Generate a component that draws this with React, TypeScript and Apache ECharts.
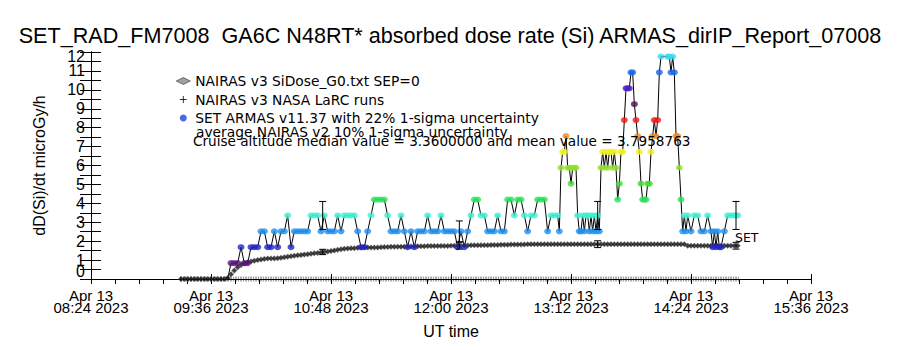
import React, { useEffect, useRef } from "react";
import * as echarts from "echarts";

// ---------------- data ----------------
const titleText = "SET_RAD_FM7008  GA6C N48RT* absorbed dose rate (Si) ARMAS_dirIP_Report_07008";
const yAxisTitle = "dD(Si)/dt microGy/h";
const xAxisTitle = "UT time";
const dateLabel = "Apr 13";
const yearLabel = "2023";
const xTickLabels = ["08:24", "09:36", "10:48", "12:00", "13:12", "14:24", "15:36"];
const yTickLabels = [0, 1, 2, 3, 4, 5, 6, 7, 8, 9, 10, 11, 12];

const nairasName = "NAIRAS v3 SiDose_G0.txt SEP=0";
const larcName = "NAIRAS v3 NASA LaRC runs";
const armasName = "SET ARMAS v11.37 with 22% 1-sigma uncertainty";
const noteAverage = "average NAIRAS v2 10% 1-sigma uncertainty";
const noteCruise = "Cruise altitude median value = 3.3600000 and mean value = 3.7958763";
const endLabel = "SET";

// NAIRAS model, 2-minute samples starting 09:18
const nairasStart = "09:18";
const nairasStepMin = 2;
const nairasValues = [
  0, 0, 0, 0, 0, 0, 0, 0, 0, 0, 0, 0, 0, 0,
  0.05, 0.25, 0.45, 0.62, 0.74, 0.82, 0.88, 0.93, 0.97, 1.0,
  1.03, 1.06, 1.08, 1.09, 1.09, 1.1, 1.12, 1.15, 1.18, 1.2,
  1.23, 1.25, 1.27, 1.29, 1.31, 1.34, 1.36, 1.38, 1.41, 1.43,
  1.45, 1.48, 1.51, 1.54, 1.57, 1.6, 1.61, 1.62, 1.63, 1.65,
  1.66, 1.67, 1.67, 1.66, 1.66, 1.67, 1.68, 1.69, 1.69, 1.7,
  1.7, 1.71, 1.71, 1.71, 1.72, 1.72, 1.72, 1.73, 1.73, 1.73,
  1.74, 1.74, 1.74, 1.75, 1.75, 1.75, 1.75, 1.76, 1.76, 1.76,
  1.76, 1.77, 1.77, 1.78, 1.78, 1.78, 1.79, 1.79, 1.79, 1.8,
  1.8, 1.8, 1.81, 1.81, 1.81, 1.82, 1.82, 1.82, 1.82, 1.83,
  1.84, 1.84, 1.84, 1.84, 1.84, 1.84, 1.84, 1.84, 1.84, 1.84, 1.84, 1.84,
  1.84, 1.84, 1.84, 1.84, 1.84, 1.84, 1.84, 1.84, 1.84, 1.84, 1.84, 1.84,
  1.84, 1.84, 1.84, 1.84, 1.84, 1.84, 1.84, 1.84, 1.84, 1.84, 1.84, 1.84,
  1.84, 1.84, 1.84, 1.84, 1.84, 1.84, 1.84, 1.84, 1.84, 1.84, 1.84, 1.84,
  1.76, 1.76, 1.76, 1.76, 1.76, 1.76, 1.76, 1.76,
  1.76, 1.76, 1.76, 1.76, 1.76, 1.76, 1.76, 1.76,
];

// NASA LaRC runs (same sampling, all zero)
const larcValues = [
  0, 0, 0, 0, 0, 0, 0, 0, 0, 0, 0, 0, 0, 0, 0, 0, 0, 0, 0, 0, 0, 0, 0, 0,
  0, 0, 0, 0, 0, 0, 0, 0, 0, 0, 0, 0, 0, 0, 0, 0, 0, 0, 0, 0, 0, 0, 0, 0,
  0, 0, 0, 0, 0, 0, 0, 0, 0, 0, 0, 0, 0, 0, 0, 0, 0, 0, 0, 0, 0, 0, 0, 0,
  0, 0, 0, 0, 0, 0, 0, 0, 0, 0, 0, 0, 0, 0, 0, 0, 0, 0, 0, 0, 0, 0, 0, 0,
  0, 0, 0, 0, 0, 0, 0, 0, 0, 0, 0, 0, 0, 0, 0, 0, 0, 0, 0, 0, 0, 0, 0, 0,
  0, 0, 0, 0, 0, 0, 0, 0, 0, 0, 0, 0, 0, 0, 0, 0, 0, 0, 0, 0, 0, 0, 0, 0,
  0, 0, 0, 0, 0, 0, 0, 0, 0, 0, 0, 0, 0, 0, 0, 0, 0, 0, 0, 0, 0, 0, 0, 0,
];

// SET ARMAS measurements
const armasTimes = [
  "09:46", "09:48", "09:50", "09:52", "09:54", "09:56", "09:58", "10:00", "10:02", "10:04",
  "10:06", "10:08", "10:10", "10:12", "10:14", "10:16", "10:18", "10:20", "10:22", "10:24",
  "10:26", "10:28", "10:30", "10:32", "10:34", "10:36", "10:38", "10:40", "10:42", "10:44",
  "10:46", "10:48", "10:50", "10:52", "10:54", "10:56", "10:58", "11:00", "11:02", "11:04",
  "11:06", "11:08", "11:10", "11:12", "11:14", "11:16", "11:18", "11:20", "11:22", "11:24",
  "11:26", "11:28", "11:30", "11:32", "11:34", "11:36", "11:38", "11:40", "11:42", "11:44",
  "11:46", "11:48", "11:50", "11:52", "11:54", "11:56", "11:58", "12:00", "12:02", "12:04",
  "12:06", "12:08", "12:10", "12:12", "12:14", "12:16", "12:18", "12:20", "12:22", "12:24",
  "12:26", "12:28", "12:30", "12:32", "12:34", "12:36", "12:38", "12:40", "12:42", "12:44",
  "12:46", "12:48", "12:50", "12:52", "12:54", "12:56", "12:58", "13:00", "13:02", "13:04",
  "13:05", "13:06", "13:07", "13:08", "13:09", "13:10", "13:11", "13:12", "13:13", "13:14",
  "13:15", "13:16", "13:17", "13:18", "13:19", "13:20", "13:21", "13:22", "13:23", "13:24",
  "13:25", "13:26", "13:27", "13:28", "13:29", "13:30", "13:31", "13:32", "13:33", "13:34",
  "13:35", "13:36", "13:37", "13:38", "13:39", "13:40", "13:41", "13:42", "13:43", "13:44",
  "13:45", "13:46", "13:47", "13:48", "13:49", "13:50", "13:51", "13:52", "13:53", "13:54",
  "13:55", "13:56", "13:57", "13:58", "13:59", "14:00", "14:01", "14:02", "14:03", "14:04",
  "14:05", "14:06", "14:10", "14:11", "14:12", "14:13", "14:14", "14:15", "14:16", "14:17",
  "14:18", "14:19", "14:20", "14:21", "14:22", "14:24", "14:26", "14:28", "14:30", "14:32",
  "14:34", "14:36", "14:37", "14:38", "14:39", "14:40", "14:41", "14:42", "14:44", "14:46",
  "14:48", "14:50", "14:51", "14:52",
];
const armasValues = [
  0, 0.84, 0.84, 0.84, 1.68, 0.84, 0.84, 1.68, 1.68, 1.68,
  2.52, 2.52, 1.68, 1.68, 2.52, 1.68, 2.52, 2.52, 3.36, 1.68,
  2.52, 2.52, 2.52, 2.52, 2.52, 3.36, 3.36, 3.36, 2.52, 3.36,
  2.52, 2.52, 2.52, 3.36, 2.52, 3.36, 3.36, 3.36, 3.36, 2.52,
  1.68, 1.68, 2.52, 3.36, 4.2, 4.2, 4.2, 4.2, 3.36, 2.52,
  2.52, 2.52, 3.36, 2.52, 1.68, 2.52, 1.68, 2.52, 2.52, 2.52,
  3.36, 2.52, 2.52, 2.52, 3.36, 2.52, 2.52, 2.52, 2.52, 1.68,
  2.52, 1.68, 2.52, 3.36, 4.2, 4.2, 3.36, 3.36, 2.52, 2.52,
  2.52, 3.36, 2.52, 2.52, 4.2, 4.2, 3.36, 4.2, 4.2, 3.36,
  2.52, 3.36, 3.36, 4.2, 4.2, 4.2, 2.52, 3.36, 3.36, 3.36,
  2.52, 5.88, 6.72, 6.72, 7.56, 5.88, 5.88, 5.04, 5.88, 5.88,
  5.88, 3.36, 2.52, 2.52, 3.36, 2.52, 3.36, 3.36, 2.52, 3.36,
  2.52, 3.36, 2.52, 3.36, 2.52, 5.88, 6.72, 5.88, 6.72, 5.88,
  6.72, 6.72, 5.88, 6.72, 5.88, 4.2, 5.04, 6.72, 6.72, 8.4,
  10.08, 10.08, 10.08, 10.92, 10.92, 9.24, 8.4, 7.56, 6.72, 5.04,
  4.2, 4.2, 4.2, 5.04, 5.04, 6.72, 7.56, 8.4, 7.56, 8.4,
  10.92, 11.76, 11.76, 11.76, 10.92, 11.76, 10.92, 7.56, 7.56, 5.88,
  4.2, 2.52, 3.36, 2.52, 3.36, 2.52, 3.36, 3.36, 2.52, 2.52,
  3.36, 2.52, 1.68, 2.52, 1.68, 2.52, 1.68, 1.68, 2.52, 3.36,
  3.36, 3.36, 3.36, 3.36,
];

// uncertainty bars
const errTimes = ["10:43", "12:05", "13:28", "14:51"];
const armasErrLow = [2.62, 1.97, 2.62, 2.62];
const armasErrHigh = [4.1, 3.07, 4.1, 4.1];
const nairasErrLow = [1.29, 1.58, 1.66, 1.58];
const nairasErrHigh = [1.57, 1.94, 2.02, 1.94];

// ---------------- styles ----------------
const ARMAS_STEP = 0.84;
const levelColors = [
  "rgba(0,0,0,0)", "#5a1478", "#2424c8", "#1e8ff0", "#3cf0d2", "#28e25a", "#3edc30",
  "#8ee02a", "#f0f020", "#f08a22", "#f01818", "#4e1055", "#4a22c8", "#1c66e8", "#38d8f0",
];
const FONT = "'Liberation Sans', Arial, sans-serif";
const FONT2 = "'DejaVu Sans', 'Liberation Sans', sans-serif";

const toMin = (s: string) => {
  const [h, m] = s.split(":").map(Number);
  return h * 60 + m - (8 * 60 + 24);
};

function errorBar(params: any, api: any) {
  const t = api.value(0);
  const lo = api.coord([t, api.value(1)]);
  const hi = api.coord([t, api.value(2)]);
  const w = 3.5;
  const st = { stroke: "#000", lineWidth: 1 };
  return {
    type: "group",
    children: [
      { type: "line", shape: { x1: lo[0], y1: lo[1], x2: hi[0], y2: hi[1] }, style: st },
      { type: "line", shape: { x1: lo[0] - w, y1: lo[1], x2: lo[0] + w, y2: lo[1] }, style: st },
      { type: "line", shape: { x1: hi[0] - w, y1: hi[1], x2: hi[0] + w, y2: hi[1] }, style: st },
    ],
  };
}

export default function App() {
  const ref = useRef<HTMLDivElement>(null);
  useEffect(() => {
    document.body.style.margin = "0";
    const chart = echarts.init(ref.current!, null, { renderer: "svg" });
    const nStart = toMin(nairasStart);
    const nairasData = nairasValues.map((v, i) => [nStart + nairasStepMin * i, v]);
    const larcData = larcValues.map((v, i) => [nStart + nairasStepMin * i, v]);
    const armasData = armasValues.map((v, i) => [toMin(armasTimes[i]), v]);
    const armasItems = armasValues.map((v, i) => ({
      value: [toMin(armasTimes[i]), v],
      itemStyle: { color: levelColors[Math.round(v / ARMAS_STEP)] },
    }));
    const armasErr = errTimes.map((t, i) => [toMin(t), armasErrLow[i], armasErrHigh[i]]);
    const nairasErr = errTimes.map((t, i) => [toMin(t), nairasErrLow[i], nairasErrHigh[i]]);
    const xMin = toMin(xTickLabels[0]);
    const xMax = toMin(xTickLabels[xTickLabels.length - 1]);
    const xStep = toMin(xTickLabels[1]) - xMin;
    const yMin = yTickLabels[0];
    const yMax = yTickLabels[yTickLabels.length - 1];
    const innerLabels = yTickLabels.slice(1, -1);
    const endLabels = [yMin, yMax];

    const axisLine = { show: true, lineStyle: { color: "#000", width: 1 } };
    const yLabStyle = { fontSize: 16, lineHeight: 12, color: "#000", fontFamily: FONT };
    chart.setOption({
      animation: false,
      backgroundColor: "#fff",
      textStyle: { fontFamily: FONT },
      title: {
        text: titleText,
        left: "center",
        top: 19.5,
        textStyle: { fontSize: 21.6, fontWeight: "normal", color: "#000", fontFamily: FONT },
      },
      legend: {
        orient: "vertical",
        left: 171,
        top: 69,
        itemWidth: 14,
        itemHeight: 7,
        itemGap: 4.5,
        selectedMode: false,
        textStyle: { fontSize: 13.8, color: "#000", fontFamily: FONT2, lineHeight: 13 },
        data: [
          { name: nairasName, icon: "diamond", itemStyle: { color: "#888", borderColor: "#000", borderWidth: 0.6 } },
          { name: larcName, icon: "path://M2,0V4M0,2H4", itemStyle: { color: "none", borderColor: "#000", borderWidth: 1 } },
          { name: armasName, icon: "circle", itemStyle: { color: "#2040e0" } },
        ],
      },
      grid: { left: 91, right: 89, top: 52, bottom: 71, containLabel: false },
      xAxis: [
        {
          type: "value",
          position: "bottom",
          min: xMin,
          max: xMax,
          interval: xStep,
          axisLine,
          axisTick: { show: true, inside: true, length: 5, lineStyle: { color: "#000" } },
          splitLine: { show: false },
          axisLabel: {
            color: "#000",
            fontSize: 15,
            lineHeight: 12,
            margin: 10,
            fontFamily: FONT,
            formatter: (v: number) => {
              const i = Math.round((v - xMin) / xStep);
              return `${dateLabel}\n${xTickLabels[i]} ${yearLabel}`;
            },
          },
          name: xAxisTitle,
          nameLocation: "middle",
          nameGap: 44,
          nameTextStyle: { fontSize: 16, color: "#000", fontFamily: FONT },
        },
        {
          type: "value",
          position: "top",
          min: xMin,
          max: xMax,
          interval: xStep,
          axisLine,
          axisTick: { show: true, inside: true, length: 5, lineStyle: { color: "#000" } },
          minorTick: { show: true, splitNumber: 5, length: 5, lineStyle: { color: "#000" } },
          axisLabel: { show: false },
          splitLine: { show: false },
        },
      ],
      yAxis: [
        {
          type: "value",
          position: "left",
          min: yMin,
          max: yMax,
          interval: 0.5,
          axisLine,
          axisTick: { show: true, inside: true, length: 10, lineStyle: { color: "#000" } },
          axisLabel: { customValues: innerLabels, margin: 6, ...yLabStyle },
          splitLine: { show: false },
          name: yAxisTitle,
          nameLocation: "middle",
          nameGap: 44,
          nameRotate: 90,
          nameTextStyle: { fontSize: 16, color: "#000", fontFamily: FONT },
        },
        {
          type: "value",
          position: "right",
          min: yMin,
          max: yMax,
          interval: 0.5,
          axisLine,
          axisTick: { show: true, inside: true, length: 11, lineStyle: { color: "#000" } },
          axisLabel: { show: false },
          splitLine: { show: false },
        },
        {
          // end labels (0 and 12) sit inside the frame, as in the reference
          type: "value",
          position: "left",
          min: -0.43,
          max: 12.24,
          axisLine: { show: false },
          axisTick: { show: false },
          splitLine: { show: false },
          axisLabel: { customValues: endLabels, margin: 6, ...yLabStyle },
        },
      ],
      graphic: [
        {
          type: "text",
          x: 196,
          y: 132,
          z: 100,
          style: { text: noteAverage, fontSize: 13.8, lineHeight: 12, fontFamily: FONT2, fill: "#000", verticalAlign: "middle" },
        },
        {
          type: "text",
          x: 193,
          y: 141,
          z: 100,
          style: { text: noteCruise, fontSize: 13.6, lineHeight: 12, fontFamily: FONT2, fill: "#000", verticalAlign: "middle" },
        },
        {
          type: "text",
          x: 735,
          y: 237,
          z: 100,
          style: { text: endLabel, fontSize: 12.5, fontFamily: FONT2, fill: "#000", verticalAlign: "middle" },
        },
      ],
      series: [
        {
          type: "scatter",
          name: nairasName,
          data: nairasData,
          symbol: "diamond",
          symbolSize: 5.5,
          itemStyle: { color: "#111", borderColor: "#666", borderWidth: 0.5 },
          z: 3,
          silent: true,
        },
        {
          type: "scatter",
          name: larcName,
          data: larcData,
          symbol: "path://M0,0V4M2,0V4",
          symbolSize: [1.67, 5],
          itemStyle: { color: "none", borderColor: "#000", borderWidth: 0.8 },
          z: 3,
          silent: true,
        },
        {
          type: "line",
          name: "armas-trace",
          data: armasData,
          symbol: "none",
          lineStyle: { color: "#000", width: 1 },
          z: 2,
          silent: true,
        },
        {
          type: "scatter",
          name: armasName,
          data: armasItems,
          symbol: "circle",
          symbolSize: [7, 6],
          itemStyle: { color: "#2040e0" },
          z: 4,
          silent: true,
        },
        { type: "custom", name: "armas-err", data: armasErr, renderItem: errorBar, z: 5, silent: true },
        { type: "custom", name: "nairas-err", data: nairasErr, renderItem: errorBar, z: 5, silent: true },
      ],
    });
    return () => chart.dispose();
  }, []);
  return <div ref={ref} style={{ width: 900, height: 350 }} />;
}
